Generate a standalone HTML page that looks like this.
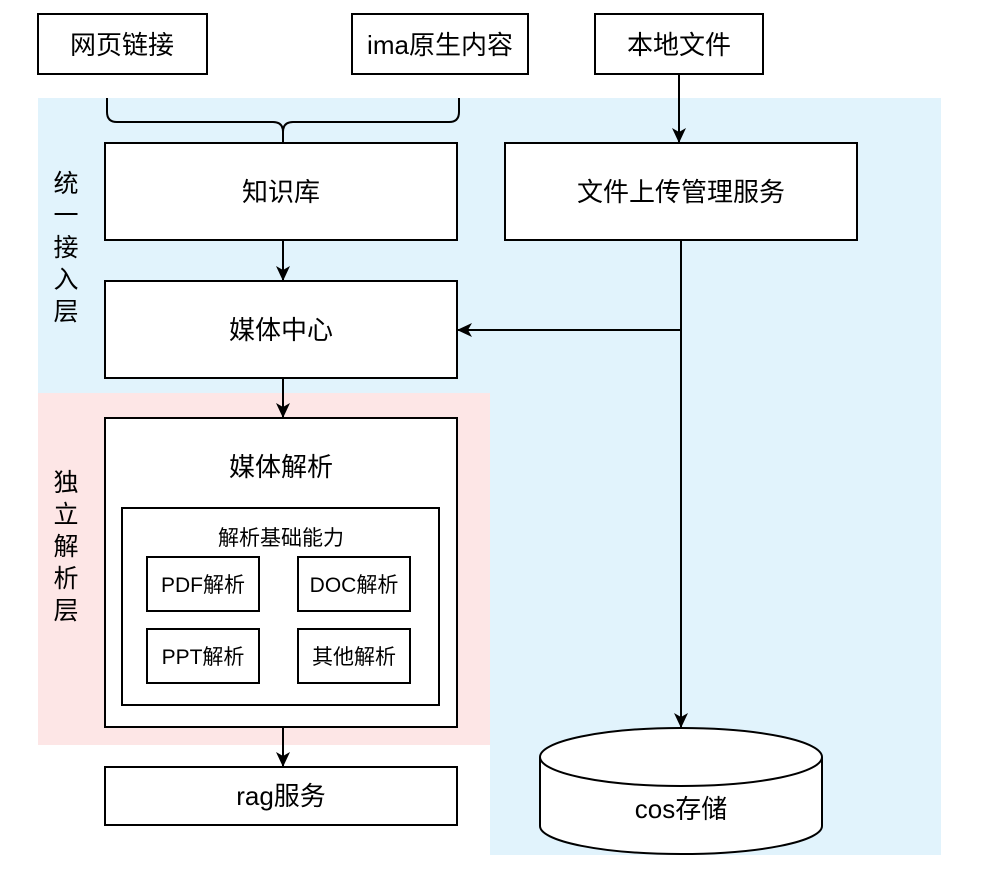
<!DOCTYPE html>
<html><head><meta charset="utf-8"><style>html,body{margin:0;padding:0;background:#fff}</style></head>
<body>
<svg width="981" height="873" xmlns="http://www.w3.org/2000/svg" font-family="'Liberation Sans','Noto Sans CJK SC',sans-serif" fill="none">
<defs><marker id="a" markerWidth="16" markerHeight="16" refX="14" refY="7" orient="auto" markerUnits="userSpaceOnUse"><path d="M0,0 L15,7 L0,14 L4,7 Z" fill="#000"/></marker></defs>
<path d="M38,98 H941 V855 H490 V393 H38 Z" fill="#e1f3fc"/>
<rect x="38" y="393" width="452" height="352" fill="#fde6e6"/>
<g stroke="#000" stroke-width="2" fill="#fff">
<rect x="38" y="14" width="169" height="60"/>
<rect x="352" y="14" width="176" height="60"/>
<rect x="595" y="14" width="168" height="60"/>
<rect x="105" y="143" width="352" height="97"/>
<rect x="505" y="143" width="352" height="97"/>
<rect x="105" y="281" width="352" height="97"/>
<rect x="105" y="418" width="352" height="309"/>
<rect x="122" y="508" width="317" height="197"/>
<rect x="147" y="557" width="112" height="54"/>
<rect x="298" y="557" width="112" height="54"/>
<rect x="147" y="629" width="112" height="54"/>
<rect x="298" y="629" width="112" height="54"/>
<rect x="105" y="767" width="352" height="58"/>
<path d="M540,757 V826 A141,28 0 0 0 822,826 V757"/>
<ellipse cx="681" cy="757" rx="141" ry="29"/>
</g>
<g stroke="#000" stroke-width="2">
<path d="M107,98 V112 Q107,122 117,122 H273 Q283,122 283,132 V143 M283,132 Q283,122 293,122 H449 Q459,122 459,112 V98"/>
<path d="M679,74 V142" marker-end="url(#a)"/>
<path d="M681,240 V727" marker-end="url(#a)"/>
<path d="M681,330 H458" marker-end="url(#a)"/>
<path d="M283,240 V280" marker-end="url(#a)"/>
<path d="M283,378 V417" marker-end="url(#a)"/>
<path d="M283,727 V766" marker-end="url(#a)"/>
</g>
<g fill="#000" text-anchor="middle" font-size="26">
<text x="122" y="54">网页链接</text>
<text x="440" y="54">ima原生内容</text>
<text x="679" y="54">本地文件</text>
<text x="281" y="201">知识库</text>
<text x="681" y="201">文件上传管理服务</text>
<text x="281" y="339">媒体中心</text>
<text x="281" y="476">媒体解析</text>
<text x="281" y="805">rag服务</text>
<text x="681" y="818">cos存储</text>
<text x="281" y="545" font-size="21">解析基础能力</text>
<text x="203" y="592" font-size="21">PDF解析</text>
<text x="354" y="592" font-size="21">DOC解析</text>
<text x="203" y="664" font-size="21">PPT解析</text>
<text x="354" y="664" font-size="21">其他解析</text>
<g font-size="25">
<text x="66" y="192">统</text><text x="66" y="224">一</text><text x="66" y="256">接</text><text x="66" y="288">入</text><text x="66" y="320">层</text>
<text x="66" y="491">独</text><text x="66" y="523">立</text><text x="66" y="555">解</text><text x="66" y="587">析</text><text x="66" y="619">层</text>
</g>
</g>
</svg>
</body></html>
